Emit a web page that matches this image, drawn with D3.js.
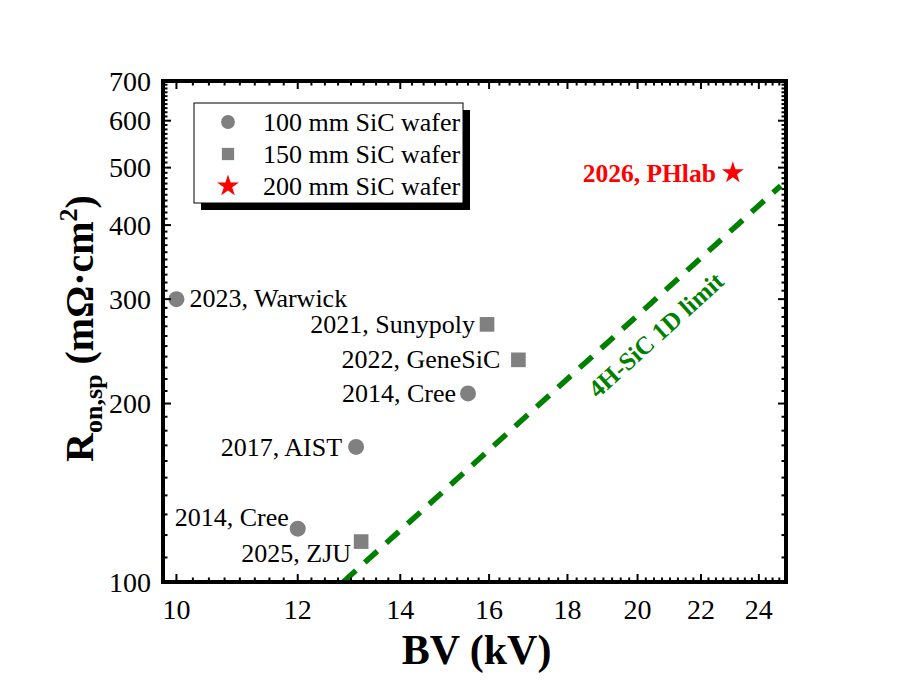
<!DOCTYPE html>
<html>
<head>
<meta charset="utf-8">
<script src="https://cdn.jsdelivr.net/npm/d3@7"></script>
<style>
  body { margin: 0; background: #fff; }
  svg text { font-family: "Liberation Serif", "Tinos", "DejaVu Serif", serif; }
</style>
</head>
<body>
<svg width="913" height="699"></svg>
<script>
// Data
const bv     = [10.0, 15.95, 16.72, 15.5, 13.1, 12.0, 13.2, 23.08];   // kV
const ron    = [300, 272, 237, 208, 169, 123, 117, 490];              // mOhm.cm2
const wafer  = ["100", "150", "150", "100", "100", "100", "150", "200"];
const names  = ["2023, Warwick", "2021, Sunypoly", "2022, GeneSiC", "2014, Cree",
                "2017, AIST", "2014, Cree", "2025, ZJU", "2026, PHlab"];
const limitBV  = [12.85, 24.8];
const limitRon = [100, 466];
const xTicks = [10, 12, 14, 16, 18, 20, 22, 24];
const yTicks = [100, 200, 300, 400, 500, 600, 700];
const legendNames = ["100 mm SiC wafer", "150 mm SiC wafer", "200 mm SiC wafer"];

// label placement (px offset from the point, anchor)
const labelPos = [
  [13, 8, "start"], [-12, 9, "end"], [-18, 8, "end"], [-12, 9, "end"],
  [-14, 9, "end"], [-9, -3, "end"], [-10, 20, "end"], [-17, 9, "end"]
];

const svg = d3.select("svg"),
  width = +svg.attr("width"),
  height = +svg.attr("height");

const margin = {top: 81, right: 127, bottom: 117, left: 163};
const x = d3.scaleLog().domain([9.8, 25]).range([margin.left, width - margin.right]);
const y = d3.scaleLog().domain([100, 700]).range([height - margin.bottom, margin.top]);

const x0 = x.range()[0], x1 = x.range()[1], y0 = y.range()[0], y1 = y.range()[1];

const grey = "#808080";
const symbolFor = {"100": d3.symbolCircle, "150": d3.symbolSquare, "200": d3.symbolStar};
const colorFor = {"100": grey, "150": grey, "200": "#ff0000"};
const sizeFor = {"100": 200, "150": 215, "200": 150};

// clip for the limit line
svg.append("clipPath").attr("id", "plot")
  .append("rect").attr("x", x0).attr("y", y1).attr("width", x1 - x0).attr("height", y0 - y1);

// 4H-SiC 1D limit
const limitData = limitBV.map((d, i) => [d, limitRon[i]]);
svg.append("path")
  .datum(limitData)
  .attr("clip-path", "url(#plot)")
  .attr("fill", "none")
  .attr("stroke", "#008000")
  .attr("stroke-width", 5.5)
  .attr("stroke-dasharray", "17,12")
  .attr("d", d3.line().x(d => x(d[0])).y(d => y(d[1])));

const ang = Math.atan2(y(limitRon[1]) - y(limitRon[0]), x(limitBV[1]) - x(limitBV[0])) * 180 / Math.PI;
svg.append("text")
  .attr("transform", `translate(${x(20.56)},${y(261)}) rotate(${ang})`)
  .attr("text-anchor", "middle")
  .attr("dominant-baseline", "central")
  .attr("font-size", 25)
  .attr("font-weight", "bold")
  .attr("fill", "#008000")
  .text("4H-SiC 1D limit");

// points
svg.append("g")
  .selectAll("path")
  .data(bv)
  .join("path")
  .attr("transform", (d, i) => `translate(${x(d)},${y(ron[i])})`)
  .attr("fill", (d, i) => colorFor[wafer[i]])
  .attr("d", (d, i) => d3.symbol(symbolFor[wafer[i]], sizeFor[wafer[i]])());

// point labels
svg.append("g")
  .selectAll("text")
  .data(names)
  .join("text")
  .attr("x", (d, i) => x(bv[i]) + labelPos[i][0])
  .attr("y", (d, i) => y(ron[i]) + labelPos[i][1])
  .attr("text-anchor", (d, i) => labelPos[i][2])
  .attr("font-size", (d, i) => wafer[i] === "200" ? 25.5 : 26)
  .attr("font-weight", (d, i) => wafer[i] === "200" ? "bold" : "normal")
  .attr("fill", (d, i) => wafer[i] === "200" ? "#ff0000" : "#000")
  .text(d => d);

// axes: ticks inward on all four sides
const xMinor = d3.range(10, 25.01, 0.25).filter(v => Math.abs(v / 2 - Math.round(v / 2)) > 1e-6);
const yMinor = d3.range(110, 700, 10).filter(v => v % 100 !== 0);

const ticks = svg.append("g").attr("stroke", "#000").attr("stroke-width", 2);
function hTicks(vals, len, yy, dir) {
  ticks.selectAll(null).data(vals).join("line")
    .attr("x1", d => x(d)).attr("x2", d => x(d))
    .attr("y1", yy).attr("y2", yy + dir * len);
}
function vTicks(vals, len, xx, dir) {
  ticks.selectAll(null).data(vals).join("line")
    .attr("y1", d => y(d)).attr("y2", d => y(d))
    .attr("x1", xx).attr("x2", xx + dir * len);
}
hTicks(xTicks, 8, y0, -1); hTicks(xMinor, 4.5, y0, -1);
hTicks(xTicks, 8, y1, 1);  hTicks(xMinor, 4.5, y1, 1);
vTicks(yTicks, 8, x0, 1);  vTicks(yMinor, 4.5, x0, 1);
vTicks(yTicks, 8, x1, -1); vTicks(yMinor, 4.5, x1, -1);

// frame
svg.append("rect")
  .attr("x", x0).attr("y", y1).attr("width", x1 - x0).attr("height", y0 - y1)
  .attr("fill", "none").attr("stroke", "#000").attr("stroke-width", 4);

// tick labels
svg.append("g").selectAll("text").data(xTicks).join("text")
  .attr("x", d => x(d)).attr("y", y0 + 37)
  .attr("text-anchor", "middle").attr("font-size", 28)
  .text(d => d);
svg.append("g").selectAll("text").data(yTicks).join("text")
  .attr("x", x0 - 12).attr("y", d => y(d))
  .attr("text-anchor", "end").attr("dominant-baseline", "central").attr("font-size", 28)
  .text(d => d);

// axis titles
svg.append("text")
  .attr("x", (x0 + x1) / 2 + 2).attr("y", y0 + 82)
  .attr("text-anchor", "middle").attr("font-size", 42).attr("font-weight", "bold")
  .text("BV (kV)");

const yt = svg.append("text")
  .attr("transform", `translate(93,${(y0 + y1) / 2 - 3}) rotate(-90)`)
  .attr("text-anchor", "middle").attr("font-size", 40).attr("font-weight", "bold");
yt.append("tspan").text("R");
yt.append("tspan").attr("font-size", 26).attr("dy", 9).text("on,sp");
yt.append("tspan").attr("dy", -9).text(" (m\u03A9\u00B7cm");
yt.append("tspan").attr("font-size", 26).attr("dy", -16).text("2");
yt.append("tspan").attr("dy", 16).text(")");

// legend
const lg = svg.append("g").attr("transform", "translate(194,103)");
lg.append("rect").attr("x", 7).attr("y", 7).attr("width", 269).attr("height", 100).attr("fill", "#000");
lg.append("rect").attr("width", 269).attr("height", 100).attr("fill", "#fff")
  .attr("stroke", "#000").attr("stroke-width", 1);
const legendKeys = ["100", "150", "200"];
legendKeys.forEach((k, i) => {
  lg.append("path")
    .attr("transform", `translate(34,${19 + i * 32})`)
    .attr("fill", colorFor[k])
    .attr("d", d3.symbol(symbolFor[k], 150)());
  lg.append("text")
    .attr("x", 69).attr("y", 19 + i * 32 + 9)
    .attr("font-size", 26)
    .text(legendNames[i]);
});
</script>
</body>
</html>
